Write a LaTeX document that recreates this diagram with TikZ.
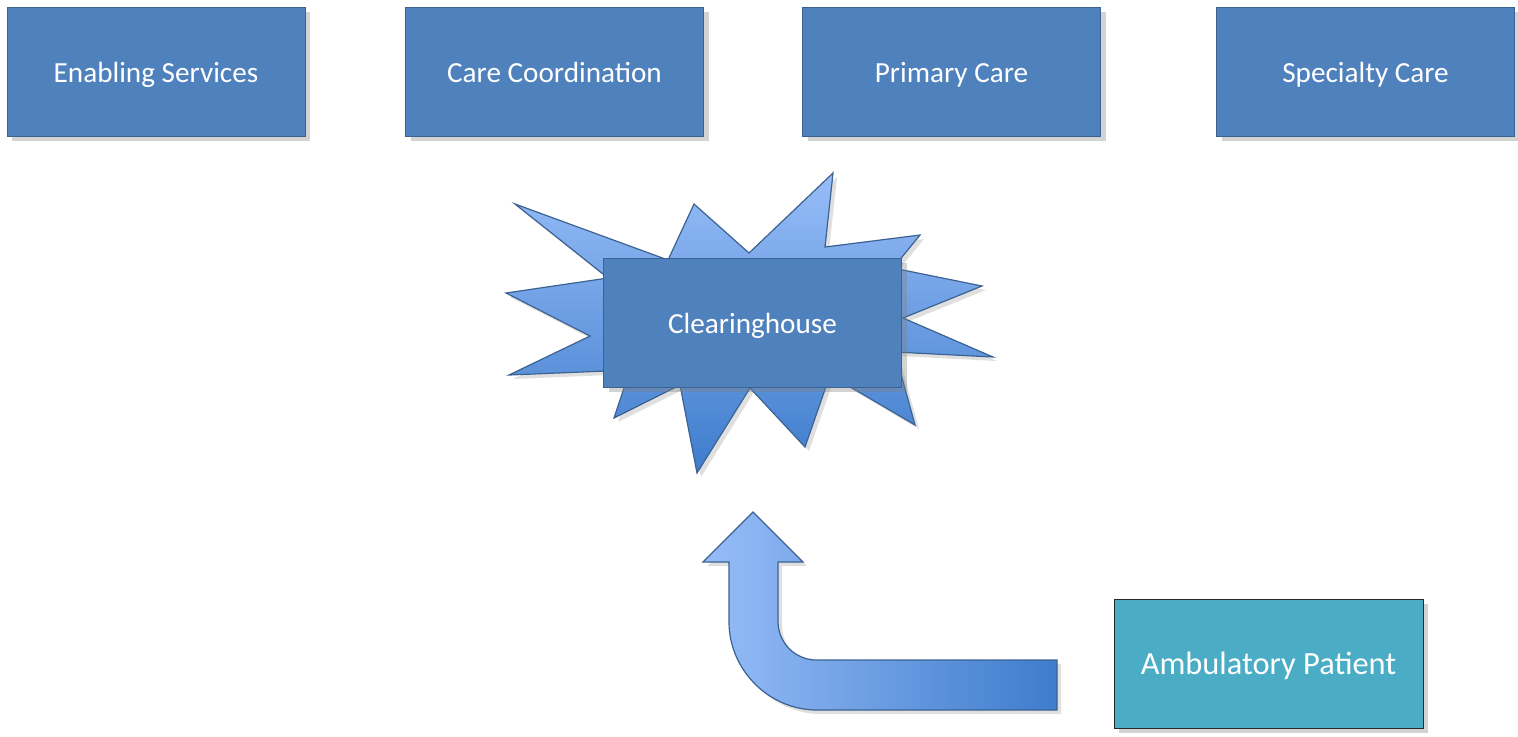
\documentclass[tikz,border=0pt]{standalone}
\usepackage{fontspec}
\setmainfont{Carlito}
\usepackage{tikz}
\usetikzlibrary{shadows}
\definecolor{boxblue}{RGB}{79,129,189}
\definecolor{boxline}{RGB}{60,98,145}
\definecolor{patteal}{RGB}{75,172,198}
\definecolor{patline}{RGB}{35,40,45}
\definecolor{burstlight}{RGB}{151,189,248}
\definecolor{burstdark}{RGB}{62,124,204}

\begin{document}
\begin{tikzpicture}[x=0.5pt,y=-0.5pt,font=\fontsize{14.6}{17}\selectfont]
\tikzset{
  svc/.style={draw=boxline,fill=boxblue,text=white,minimum width=149pt,minimum height=64.5pt,inner sep=0pt,
    text height=13pt,text depth=2.5pt,
    drop shadow={shadow xshift=2.5pt,shadow yshift=-2.5pt,opacity=0.35}},
  pat/.style={svc,draw=patline,fill=patteal,minimum width=154.5pt,font=\fontsize{16.2}{19}\selectfont},
  burst/.style={draw=boxline,line width=0.6pt,top color=burstlight,bottom color=burstdark,
    drop shadow={shadow xshift=2pt,shadow yshift=-2pt,opacity=0.25}},
  bent/.style={draw=boxline,line width=0.6pt,left color=burstlight,right color=burstdark,
    drop shadow={shadow xshift=2pt,shadow yshift=-2pt,opacity=0.25}}
}
\useasboundingbox (0,0) rectangle (1518,736);
% top row
\node(es)[svc] at (156,71.5){Enabling Services};
\node(cc)[svc] at (554.5,71.5){Care Coordination};
\node(pc)[svc] at (951.5,71.5){Primary Care};
\node(sc)[svc] at (1365.5,71.5){Specialty Care};
% burst behind the clearinghouse
\path[burst] (515,204) -- (668,260) -- (694,204) -- (749,253) -- (833,173) -- (825,247)
  -- (920,235) -- (893,268) -- (982,286) -- (903,318) -- (993,357) -- (895,352)
  -- (915,425) -- (830,375) -- (805,447) -- (750,388) -- (697,473) -- (680,385)
  -- (614,418) -- (630,370) -- (509,375) -- (590,336) -- (506,293) -- (608,278) -- cycle;
\node(ch)[svc] at (752.5,322.5){Clearinghouse};
% patient and bent arrow
\node(ap)[pat] at (1268.5,663.5){Ambulatory Patient};
\path[bent] (1057,660) -- (817,660) .. controls (795,660) and (778,643) .. (778,621)
  -- (778,562) -- (803,562) -- (753,512) -- (703,562) -- (729,562) -- (729,622)
  .. controls (729,670) and (769,710) .. (817,710) -- (1057,710) -- cycle;
\end{tikzpicture}
\end{document}
